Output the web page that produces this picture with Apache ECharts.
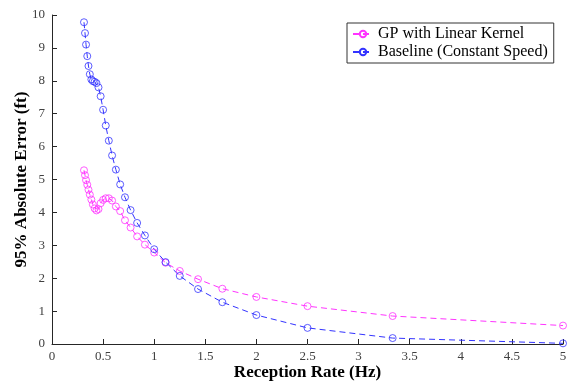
<!DOCTYPE html>
<html>
<head>
<meta charset="utf-8">
<script src="https://cdn.jsdelivr.net/npm/echarts@6/dist/echarts.min.js"></script>
<style>
  html, body { margin: 0; padding: 0; background: #fff; }
  #chart { width: 568px; height: 383px; }
</style>
</head>
<body>
<div id="chart"></div>
<script>
// reception rates (Hz)
const rates = [0.313, 0.323, 0.333, 0.345, 0.357, 0.370, 0.385, 0.400, 0.417, 0.435,
    0.455, 0.476, 0.500, 0.526, 0.556, 0.588, 0.625, 0.667, 0.714, 0.769,
    0.833, 0.909, 1.000, 1.111, 1.250, 1.429, 1.667, 2.000, 2.500, 3.333, 5.000]

const gpLinear = [5.28, 5.13, 4.98, 4.84, 4.69, 4.54, 4.39, 4.24, 4.12, 4.06,
    4.10, 4.28, 4.38, 4.43, 4.43, 4.36, 4.18, 4.04, 3.76, 3.54,
    3.27, 3.02, 2.78, 2.47, 2.22, 1.97, 1.68, 1.43, 1.15, 0.85, 0.56]

const baseline = [9.78, 9.45, 9.10, 8.75, 8.45, 8.20, 8.04, 7.99, 7.97, 7.93,
    7.80, 7.53, 7.12, 6.64, 6.18, 5.73, 5.30, 4.85, 4.46, 4.07,
    3.68, 3.30, 2.88, 2.49, 2.07, 1.67, 1.27, 0.88, 0.49, 0.18, 0.02]

const xTicks = [0, 0.5, 1, 1.5, 2, 2.5, 3, 3.5, 4, 4.5, 5]
const yTicks = [0, 1, 2, 3, 4, 5, 6, 7, 8, 9, 10]

const serif = '"Liberation Serif", "Times New Roman", serif'
const axisGrey = '#262626'

const pairs = ys => rates.map((x, i) => [x, ys[i]])

// matlab style: hollow circles, line shows through, thin dashed line
const lineSeries = (name, color, ys) => ({
    name: name,
    type: 'line',
    data: pairs(ys),
    symbol: 'circle',
    symbolSize: 7,
    showSymbol: true,
    animation: false,
    lineStyle: { color: color, width: 1, type: [6, 4] },
    itemStyle: { color: 'rgba(255,255,255,0)', borderColor: color, borderWidth: 0.8 }
})

const chart = echarts.init(document.getElementById('chart'), null, { renderer: 'canvas' })

chart.setOption({
    animation: false,
    grid: { left: 52, right: 5, top: 15, bottom: 39, outerBoundsMode: 'none', containLabel: false },
    legend: {
        orient: 'vertical',
        left: 347,
        top: 23,
        padding: [3, 6, 3, 5],
        itemGap: 2,
        itemWidth: 20,
        itemHeight: 8,
        borderColor: '#333',
        borderWidth: 1,
        data: ['GP with Linear Kernel', 'Baseline (Constant Speed)'],
        textStyle: { fontFamily: serif, fontSize: 16, color: '#000', padding: [0, 0, 0, 0] }
    },
    xAxis: {
        type: 'value',
        min: xTicks[0],
        max: xTicks[xTicks.length - 1],
        interval: 0.5,
        name: 'Reception Rate (Hz)',
        nameLocation: 'middle',
        nameGap: 20,
        nameMoveOverlap: false,
        nameTextStyle: { fontFamily: serif, fontSize: 17, fontWeight: 'bold', color: '#000' },
        axisLine: { lineStyle: { color: axisGrey, width: 1 } },
        axisTick: { inside: true, length: 5, lineStyle: { color: axisGrey } },
        axisLabel: { fontFamily: serif, fontSize: 13, color: '#404040', margin: 6 },
        splitLine: { show: false }
    },
    yAxis: {
        type: 'value',
        min: yTicks[0],
        max: yTicks[yTicks.length - 1],
        interval: 1,
        name: '95% Absolute Error (ft)',
        nameLocation: 'middle',
        nameGap: 22,
        nameMoveOverlap: false,
        nameTextStyle: { fontFamily: serif, fontSize: 17, fontWeight: 'bold', color: '#000' },
        axisLine: { show: true, lineStyle: { color: axisGrey, width: 1 } },
        axisTick: { show: true, inside: true, length: 5, lineStyle: { color: axisGrey } },
        axisLabel: { fontFamily: serif, fontSize: 13, color: '#404040', margin: 7 },
        splitLine: { show: false }
    },
    series: [
        lineSeries('GP with Linear Kernel', '#ff33ff', gpLinear),
        lineSeries('Baseline (Constant Speed)', '#3333ff', baseline)
    ]
})
</script>
</body>
</html>
